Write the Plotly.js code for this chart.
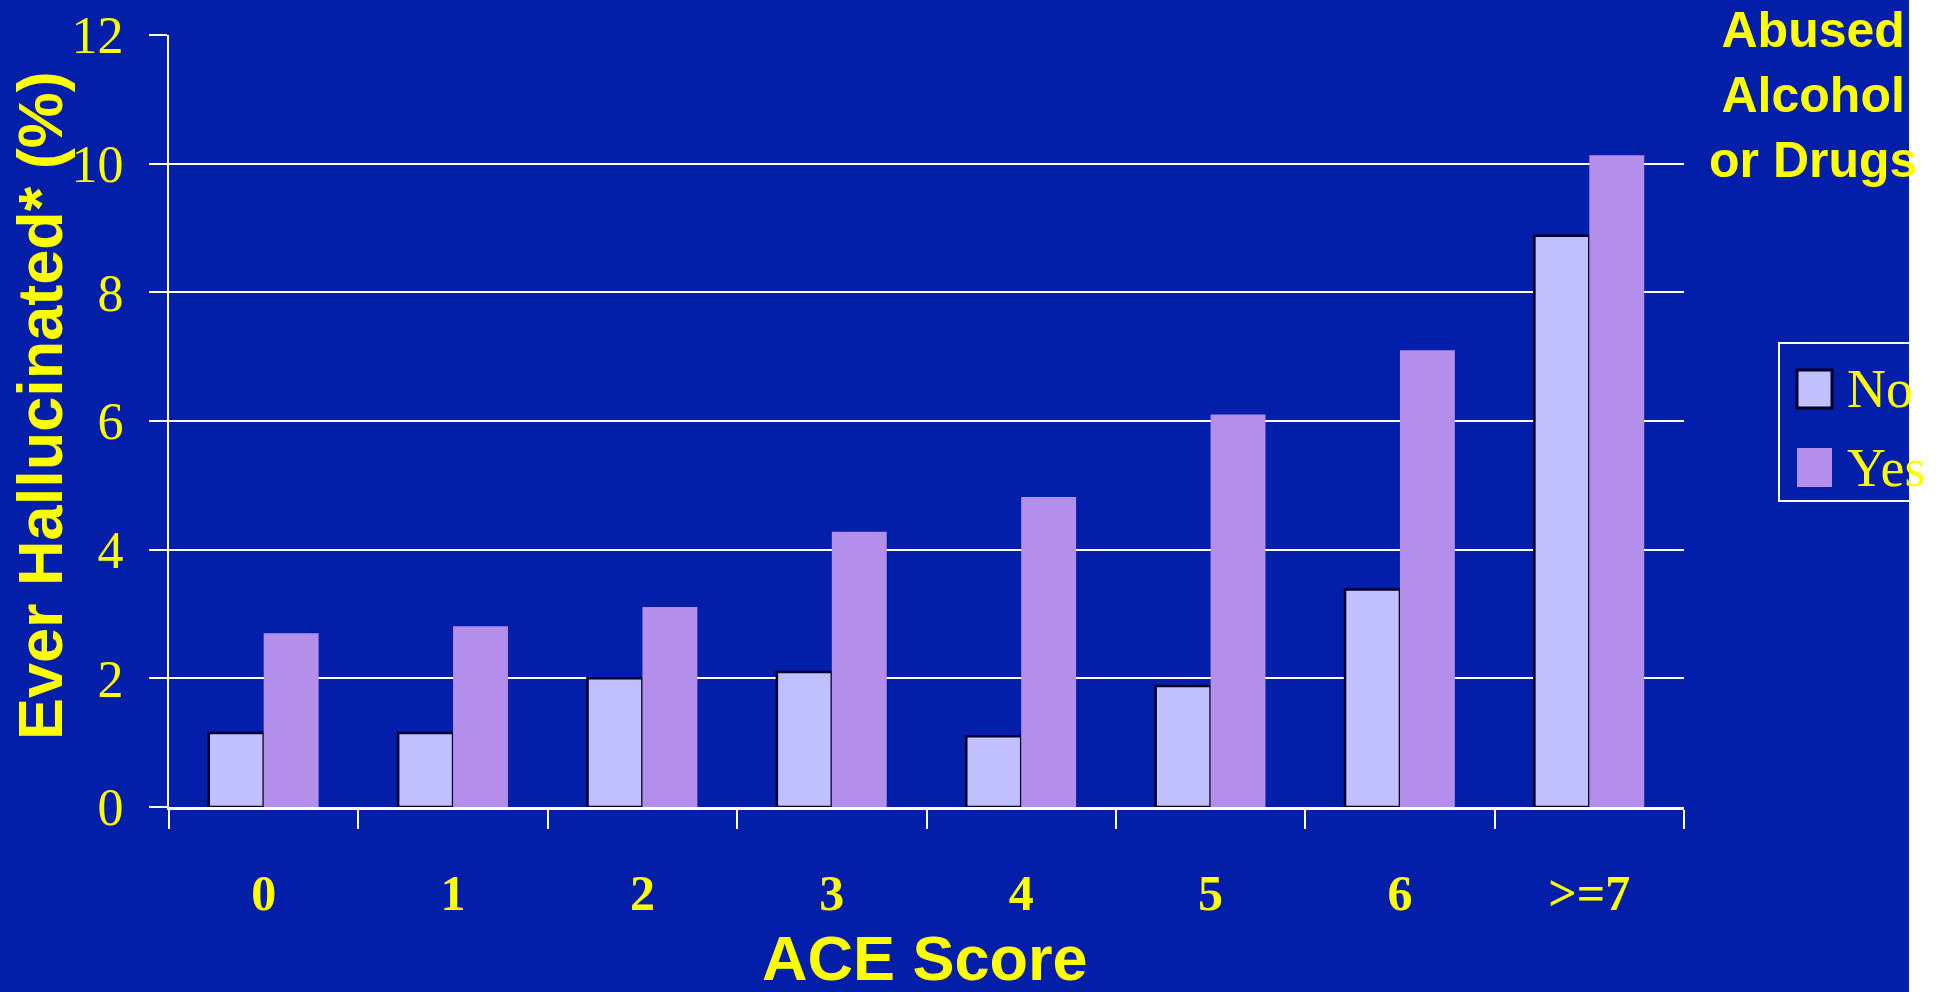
<!DOCTYPE html>
<html>
<head>
<meta charset="utf-8">
<script src="https://cdn.plot.ly/plotly-3.0.1.min.js"></script>
<style>
  html, body { margin: 0; padding: 0; background: #ffffff; }
  #chart { width: 1944px; height: 992px; }
</style>
</head>
<body>
<div id="chart"></div>
<script>
// ---- data ----
const categories = ["0", "1", "2", "3", "4", "5", "6", ">=7"];
const seriesNames = ["No", "Yes"];
const noValues  = [1.15, 1.15, 2.0, 2.1, 1.1, 1.88, 3.38, 8.88];
const yesValues = [2.70, 2.81, 3.11, 4.28, 4.82, 6.10, 7.10, 10.13];
const yTickValues = [0, 2, 4, 6, 8, 10, 12];
const xTitle = "ACE Score";
const yTitle = "Ever Hallucinated* (%)";
const legendTitleLines = ["Abused", "Alcohol", "or Drugs"];

// ---- styling ----
const BG = "#031EA8";
const YELLOW = "#FFFF00";
const NO_COLOR = "#C0C0FF";
const YES_COLOR = "#B38FEB";
const W = 1944, Hh = 992;
const M = { l: 169, r: 260, t: 35, b: 185 };
const PW = W - M.l - M.r, PH = Hh - M.t - M.b;
const px = x => (x - M.l) / PW;           // page x -> paper x
const py = y => (Hh - M.b - y) / PH;      // page y -> paper y

const traces = [
  {
    type: "bar", name: seriesNames[0], x: categories, y: noValues,
    marker: { color: NO_COLOR, line: { color: "#000028", width: 2.5 } },
    showlegend: false, hoverinfo: "skip"
  },
  {
    type: "bar", name: seriesNames[1], x: categories, y: yesValues,
    marker: { color: YES_COLOR, line: { width: 0 } },
    showlegend: false, hoverinfo: "skip"
  }
];

const layout = {
  width: W, height: Hh,
  margin: M,
  paper_bgcolor: "#ffffff",
  plot_bgcolor: "rgba(0,0,0,0)",
  barmode: "group",
  bargap: 0.42,
  bargroupgap: 0,
  showlegend: false,
  xaxis: {
    type: "category",
    tickson: "boundaries",
    ticks: "outside", ticklen: 19, tickwidth: 2, tickcolor: "#ffffff",
    showline: true, linecolor: "#ffffff", linewidth: 3,
    showgrid: false, zeroline: false,
    tickfont: { family: "Liberation Serif, Times New Roman, serif", size: 50, color: YELLOW, weight: "bold" },
    ticklabelstandoff: 40
  },
  yaxis: {
    range: [0, 12],
    tickvals: yTickValues,
    ticktext: yTickValues.map(String),
    ticks: "outside", ticklen: 18, tickwidth: 2, tickcolor: "#ffffff",
    showline: true, linecolor: "#ffffff", linewidth: 2,
    showgrid: true, gridcolor: "#ffffff", gridwidth: 2,
    zeroline: false,
    tickfont: { family: "Liberation Serif, Times New Roman, serif", size: 52, color: YELLOW },
    ticklabelstandoff: 15
  },
  shapes: [
    // slide background
    { type: "rect", xref: "paper", yref: "paper", layer: "below",
      x0: px(0), x1: px(1909), y0: py(Hh), y1: py(0),
      fillcolor: BG, line: { width: 0 } },
    // legend box
    { type: "rect", xref: "paper", yref: "paper", layer: "above",
      x0: px(1779), x1: px(2000), y0: py(501), y1: py(343),
      fillcolor: "rgba(0,0,0,0)", line: { color: "#ffffff", width: 2 } },
    // legend swatches
    { type: "rect", xref: "paper", yref: "paper", layer: "above",
      x0: px(1797), x1: px(1832), y0: py(408), y1: py(370),
      fillcolor: NO_COLOR, line: { color: "#000028", width: 3 } },
    { type: "rect", xref: "paper", yref: "paper", layer: "above",
      x0: px(1797), x1: px(1832), y0: py(487), y1: py(448),
      fillcolor: YES_COLOR, line: { width: 0 } }
  ],
  annotations: [
    { text: xTitle, xref: "paper", yref: "paper", x: px(925), y: py(958),
      xanchor: "center", yanchor: "middle", showarrow: false,
      font: { family: "Liberation Sans, Arial, sans-serif", size: 63, color: YELLOW, weight: "bold" } },
    { text: yTitle, xref: "paper", yref: "paper", x: px(40), y: py(406),
      xanchor: "center", yanchor: "middle", showarrow: false, textangle: -90,
      font: { family: "Liberation Sans, Arial, sans-serif", size: 63, color: YELLOW, weight: "bold" } },
    { text: legendTitleLines.join("<br>"), xref: "paper", yref: "paper", x: px(1813), y: py(95),
      xanchor: "center", yanchor: "middle", showarrow: false, align: "center",
      font: { family: "Liberation Sans, Arial, sans-serif", size: 50, color: YELLOW, weight: "bold" } },
    { text: seriesNames[0], xref: "paper", yref: "paper", x: px(1845), y: py(389),
      xanchor: "left", yanchor: "middle", showarrow: false,
      font: { family: "Liberation Serif, Times New Roman, serif", size: 54, color: YELLOW } },
    { text: seriesNames[1], xref: "paper", yref: "paper", x: px(1845), y: py(468),
      xanchor: "left", yanchor: "middle", showarrow: false,
      font: { family: "Liberation Serif, Times New Roman, serif", size: 54, color: YELLOW } }
  ]
};

Plotly.newPlot("chart", traces, layout, { staticPlot: true, displayModeBar: false });
</script>
</body>
</html>
